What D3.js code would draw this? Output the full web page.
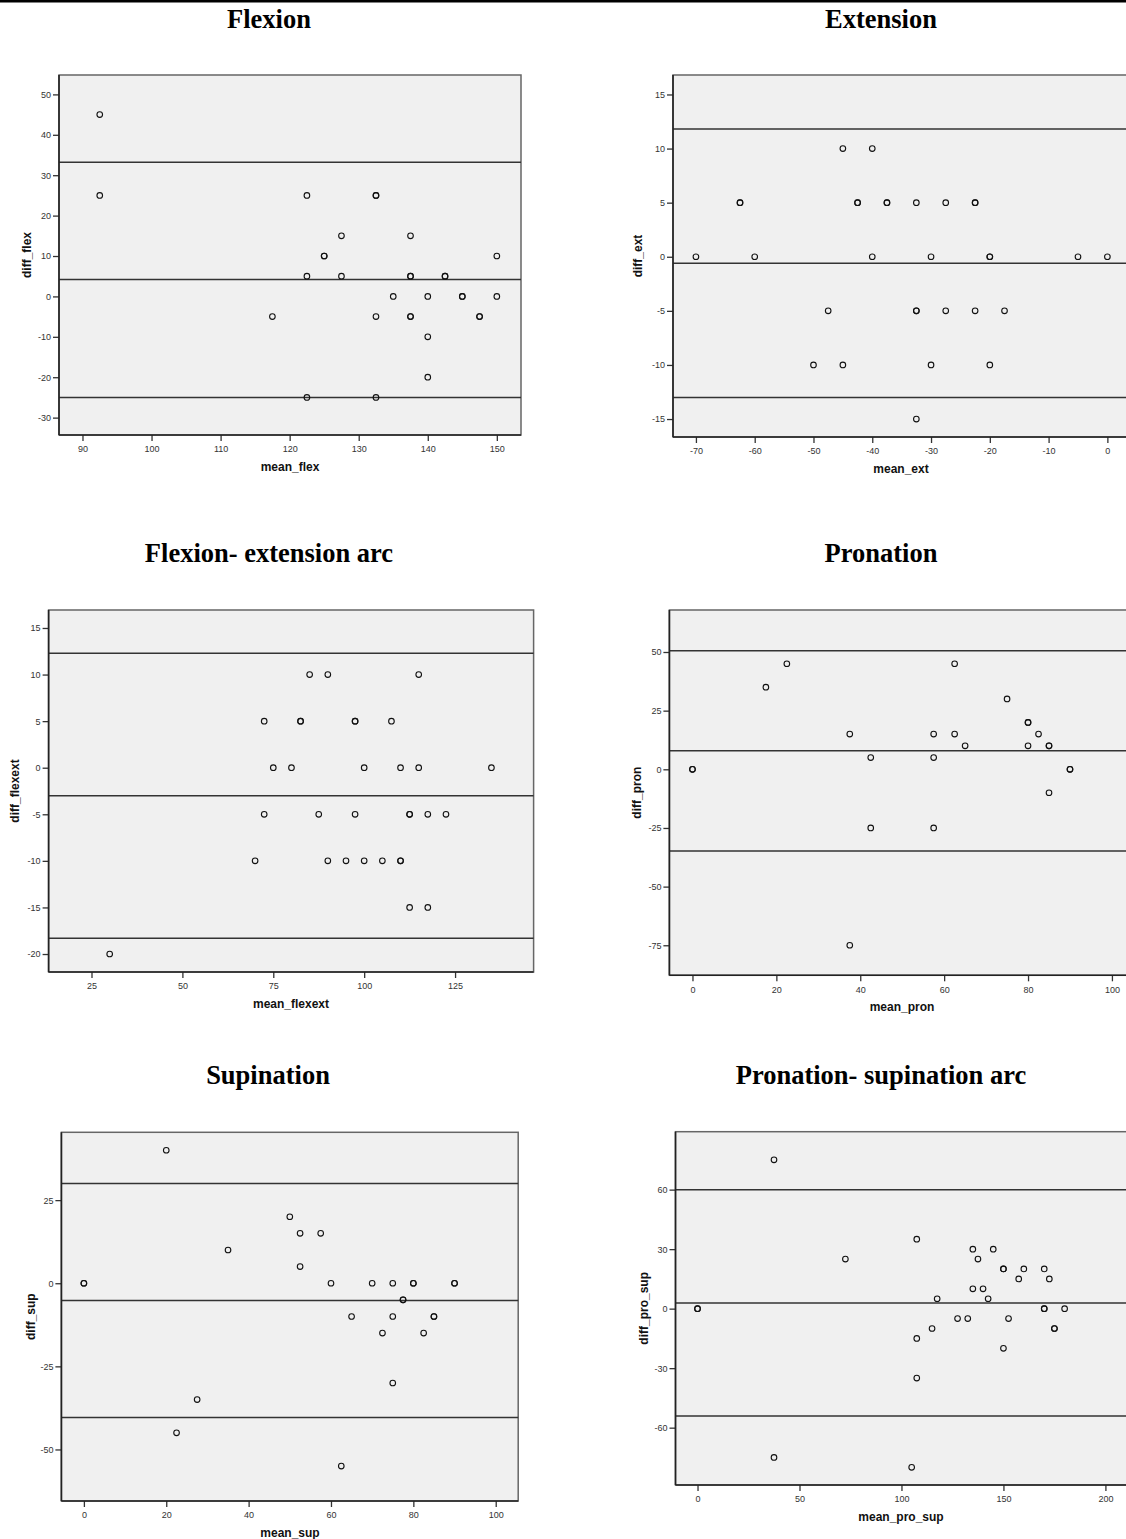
<!DOCTYPE html>
<html>
<head>
<meta charset="utf-8">
<script src="https://cdn.jsdelivr.net/npm/d3@7"></script>
<style>
  body { margin: 0; background: #fff; }
  svg { display: block; }
  .title { font-family: "Liberation Serif", "Times New Roman", serif; font-weight: bold; font-size: 26.5px; fill: #000; }
  .axis-title { font-family: "Liberation Sans", Arial, sans-serif; font-weight: bold; font-size: 12px; fill: #111; }
  .tick text { font-family: "Liberation Sans", Arial, sans-serif; font-size: 9px; fill: #333; }
  .tick line { stroke: #333; stroke-width: 1.3; }
</style>
</head>
<body>
<div id="chart"></div>
<script>
const width = 1126, height = 1539;

// ---- data: [mean, difference] ----
const flexion = [
  [92.5, 45], [92.5, 25], [122.5, 25], [132.5, 25], [132.5, 25], [127.5, 15], [137.5, 15],
  [125, 10], [125, 10], [150, 10], [122.5, 5], [127.5, 5], [137.5, 5], [137.5, 5],
  [142.5, 5], [142.5, 5], [135, 0], [140, 0], [145, 0], [145, 0], [150, 0],
  [117.5, -5], [132.5, -5], [137.5, -5], [137.5, -5], [147.5, -5], [147.5, -5],
  [140, -10], [140, -20], [122.5, -25], [132.5, -25]
];
const extension = [
  [-45, 10], [-40, 10], [-62.5, 5], [-62.5, 5], [-42.5, 5], [-42.5, 5], [-37.5, 5], [-37.5, 5],
  [-32.5, 5], [-27.5, 5], [-22.5, 5], [-22.5, 5], [-70, 0], [-60, 0], [-40, 0], [-30, 0],
  [-20, 0], [-20, 0], [-5, 0], [0, 0], [-47.5, -5], [-32.5, -5], [-32.5, -5], [-27.5, -5],
  [-22.5, -5], [-17.5, -5], [-50, -10], [-45, -10], [-30, -10], [-20, -10], [-32.5, -15]
];
const flexExtArc = [
  [85, 10], [90, 10], [115, 10], [72.5, 5], [82.5, 5], [82.5, 5], [97.5, 5], [97.5, 5],
  [107.5, 5], [75, 0], [80, 0], [100, 0], [110, 0], [115, 0], [135, 0], [72.5, -5],
  [87.5, -5], [97.5, -5], [112.5, -5], [112.5, -5], [117.5, -5], [122.5, -5], [70, -10],
  [90, -10], [95, -10], [100, -10], [105, -10], [110, -10], [110, -10], [112.5, -15],
  [117.5, -15], [30, -20]
];
const pronation = [
  [22.5, 45], [62.5, 45], [17.5, 35], [75, 30], [80, 20], [80, 20], [37.5, 15], [57.5, 15],
  [62.5, 15], [82.5, 15], [65, 10], [80, 10], [85, 10], [85, 10], [42.5, 5], [57.5, 5],
  [0, 0], [0, 0], [90, 0], [90, 0], [85, -10], [42.5, -25], [57.5, -25], [37.5, -75]
];
const supination = [
  [20, 40], [50, 20], [52.5, 15], [57.5, 15], [35, 10], [52.5, 5], [0, 0], [0, 0], [60, 0],
  [70, 0], [75, 0], [80, 0], [80, 0], [90, 0], [90, 0], [77.5, -5], [77.5, -5], [65, -10],
  [75, -10], [85, -10], [85, -10], [72.5, -15], [82.5, -15], [75, -30], [27.5, -35],
  [22.5, -45], [62.5, -55]
];
const proSupArc = [
  [37.5, 75], [107.5, 35], [135, 30], [145, 30], [72.5, 25], [137.5, 25], [150, 20], [150, 20],
  [160, 20], [170, 20], [157.5, 15], [172.5, 15], [135, 10], [140, 10], [117.5, 5], [142.5, 5],
  [0, 0], [0, 0], [170, 0], [170, 0], [180, 0], [127.5, -5], [132.5, -5], [152.5, -5],
  [115, -10], [175, -10], [175, -10], [107.5, -15], [150, -20], [107.5, -35], [37.5, -75],
  [105, -80]
];

// mean difference and limits of agreement (upper, mean, lower)
const flexionLines = [33.2, 4.2, -25.0];
const extensionLines = [11.8, -0.6, -13.0];
const flexExtLines = [12.3, -3.0, -18.3];
const pronationLines = [50.5, 7.9, -34.8];
const supinationLines = [30.0, -5.2, -40.4];
const proSupLines = [59.9, 2.9, -54.1];

// tick labels
const flexXTicks = [90, 100, 110, 120, 130, 140, 150], flexYTicks = [-30, -20, -10, 0, 10, 20, 30, 40, 50];
const extXTicks = [-70, -60, -50, -40, -30, -20, -10, 0], extYTicks = [-15, -10, -5, 0, 5, 10, 15];
const flexExtXTicks = [25, 50, 75, 100, 125], flexExtYTicks = [-20, -15, -10, -5, 0, 5, 10, 15];
const pronXTicks = [0, 20, 40, 60, 80, 100], pronYTicks = [-75, -50, -25, 0, 25, 50];
const supXTicks = [0, 20, 40, 60, 80, 100], supYTicks = [-50, -25, 0, 25];
const proSupXTicks = [0, 50, 100, 150, 200], proSupYTicks = [-60, -30, 0, 30, 60];

const titles = ["Flexion", "Extension", "Flexion- extension arc", "Pronation", "Supination", "Pronation- supination arc"];
const xNames = ["mean_flex", "mean_ext", "mean_flexext", "mean_pron", "mean_sup", "mean_pro_sup"];
const yNames = ["diff_flex", "diff_ext", "diff_flexext", "diff_pron", "diff_sup", "diff_pro_sup"];

// ---- layout of each panel (frame box, scale domains, title & label spots) ----
const panels = [
  { pts: flexion, lines: flexionLines, xt: flexXTicks, yt: flexYTicks,
    box: [59, 75, 521, 435], xDom: [86.6, 153.5], yDom: [-34.3, 54.8], tx: 269, ty: 28, ylx: 27, xlx: 290 },
  { pts: extension, lines: extensionLines, xt: extXTicks, yt: extYTicks,
    box: [673, 75, 1135, 437], xDom: [-73.9, 4.7], yDom: [-16.66, 16.8], tx: 881, ty: 28, ylx: 638, xlx: 901 },
  { pts: flexExtArc, lines: flexExtLines, xt: flexExtXTicks, yt: flexExtYTicks,
    box: [48.6, 610, 533.6, 972], xDom: [13.2, 146.6], yDom: [-21.93, 16.93], tx: 269, ty: 562, ylx: 14.5, xlx: 291 },
  { pts: pronation, lines: pronationLines, xt: pronXTicks, yt: pronYTicks,
    box: [669.4, 610, 1135, 975.3], xDom: [-5.5, 105.5], yDom: [-87.8, 67.9], tx: 881, ty: 562, ylx: 637, xlx: 902 },
  { pts: supination, lines: supinationLines, xt: supXTicks, yt: supYTicks,
    box: [61.4, 1132.3, 518.2, 1501], xDom: [-5.46, 105.46], yDom: [-65.5, 45.4], tx: 268, ty: 1084, ylx: 30.5, xlx: 290 },
  { pts: proSupArc, lines: proSupLines, xt: proSupXTicks, yt: proSupYTicks,
    box: [675.5, 1131.7, 1136, 1485], xDom: [-10.8, 215], yDom: [-88.9, 89.2], tx: 881, ty: 1084, ylx: 644, xlx: 901 }
];

const svg = d3.select("#chart").append("svg")
  .attr("width", width)
  .attr("height", height);

// black rule along the top of the page
svg.append("rect").attr("x", 0).attr("y", 0).attr("width", width).attr("height", 2.5).attr("fill", "#000");

panels.forEach((p, i) => {
  const [x0, y0, x1, y1] = p.box;
  const x = d3.scaleLinear().domain(p.xDom).range([x0, x1]);
  const y = d3.scaleLinear().domain(p.yDom).range([y1, y0]);
  const g = svg.append("g");

  g.append("text").attr("class", "title")
    .attr("x", p.tx).attr("y", p.ty).attr("text-anchor", "middle")
    .text(titles[i]);

  // plot area
  g.append("rect")
    .attr("x", x0).attr("y", y0).attr("width", x1 - x0).attr("height", y1 - y0)
    .attr("fill", "#f0f0f0").attr("stroke", "#666").attr("stroke-width", 1.5);

  // limits of agreement
  g.selectAll(".loa").data(p.lines).enter().append("line")
    .attr("x1", x0).attr("x2", x1)
    .attr("y1", d => y(d)).attr("y2", d => y(d))
    .attr("stroke", "#333").attr("stroke-width", 1.5);

  g.selectAll(".pt").data(p.pts).enter().append("circle")
    .attr("cx", d => x(d[0])).attr("cy", d => y(d[1]))
    .attr("r", 2.8)
    .attr("fill", "none").attr("stroke", "#111").attr("stroke-width", 1.1);

  // axes
  const xa = g.append("g").attr("transform", `translate(0,${y1})`)
    .call(d3.axisBottom(x).tickValues(p.xt).tickSize(6).tickPadding(5).tickFormat(d => String(d)));
  const ya = g.append("g").attr("transform", `translate(${x0},0)`)
    .call(d3.axisLeft(y).tickValues(p.yt).tickSize(6).tickPadding(2).tickFormat(d => String(d)));
  xa.select(".domain").remove();
  ya.select(".domain").remove();

  // axis lines on left and bottom
  g.append("line").attr("x1", x0).attr("x2", x0).attr("y1", y0).attr("y2", y1)
    .attr("stroke", "#222").attr("stroke-width", 1.6);
  g.append("line").attr("x1", x0).attr("x2", x1).attr("y1", y1).attr("y2", y1)
    .attr("stroke", "#222").attr("stroke-width", 1.6);

  g.append("text").attr("class", "axis-title")
    .attr("x", p.xlx)
    .attr("y", y1 + 36).attr("text-anchor", "middle")
    .text(xNames[i]);

  g.append("text").attr("class", "axis-title")
    .attr("transform", `translate(${p.ylx},${(y0 + y1) / 2}) rotate(-90)`)
    .attr("text-anchor", "middle").attr("dy", "0.35em")
    .text(yNames[i]);
});
</script>
</body>
</html>
